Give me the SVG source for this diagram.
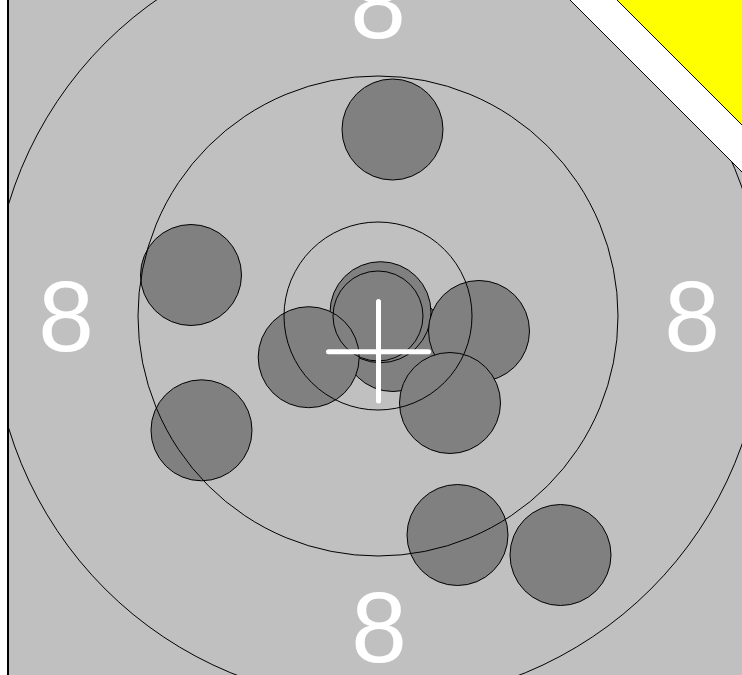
<svg xmlns="http://www.w3.org/2000/svg" width="742" height="675" viewBox="0 0 742 675">
<style>
.ring{fill:none;stroke:#000;stroke-width:1}
.shot{fill:#808080;stroke:#000;stroke-width:1}
.num{font-family:"Liberation Sans",Arial,sans-serif;font-size:100px;fill:#fff;text-anchor:middle}
.cross{stroke:#fff;stroke-width:5;stroke-linecap:round;fill:none}
</style>
<defs>
<clipPath id="tgt"><polygon points="8,-2 568,-2 744,174 744,677 8,677"/></clipPath>
</defs>
<rect x="0" y="0" width="742" height="675" fill="#fff"/>
<g id="target">
<polygon points="8,-2 568,-2 744,174 744,677 8,677" fill="#c0c0c0" stroke="#000" stroke-width="1"/>
<line x1="8" y1="-2" x2="8" y2="677" stroke="#000" stroke-width="2"/>
</g>
<g id="corner">
<polygon points="615,-2 744,127 744,-2" fill="#ff0" stroke="#000" stroke-width="1"/>
</g>
<g id="shots" clip-path="url(#tgt)">
<g id="shot1"><circle class="shot" cx="392.5" cy="129.5" r="50.5"/></g>
<g id="shot2"><circle class="shot" cx="191" cy="275" r="50.5"/></g>
<g id="shotB"><circle class="shot" cx="393" cy="341" r="50.5"/></g>
<g id="shotA"><circle class="shot" cx="380.5" cy="312.2" r="50.5"/></g>
<g id="shot3"><circle class="shot" cx="308.7" cy="357.2" r="50.5"/></g>
<g id="shot4"><circle class="shot" cx="479" cy="331" r="50.5"/></g>
<g id="shot5"><circle class="shot" cx="450" cy="403" r="50.5"/></g>
<g id="shot6"><circle class="shot" cx="201.5" cy="430.3" r="50.5"/></g>
<g id="shot7"><circle class="shot" cx="457.5" cy="535" r="50.5"/></g>
<g id="shot8"><circle class="shot" cx="560.5" cy="555" r="50.5"/></g>
</g>
<g id="rings" clip-path="url(#tgt)">
<circle class="ring" cx="378" cy="316" r="45"/>
<circle class="ring" cx="378" cy="316" r="94"/>
<circle class="ring" cx="378" cy="316" r="240"/>
<circle class="ring" cx="378" cy="316" r="386"/>
</g>
<g id="labels">
<text class="num" x="378" y="38">8</text>
<text class="num" x="66" y="351">8</text>
<text class="num" x="692" y="351">8</text>
<text class="num" x="379" y="662">8</text>
</g>
<g id="crosshair">
<line class="cross" x1="378.5" y1="301.5" x2="378.5" y2="401"/>
<line class="cross" x1="328.5" y1="351.8" x2="428.5" y2="351.8"/>
</g>
</svg>
